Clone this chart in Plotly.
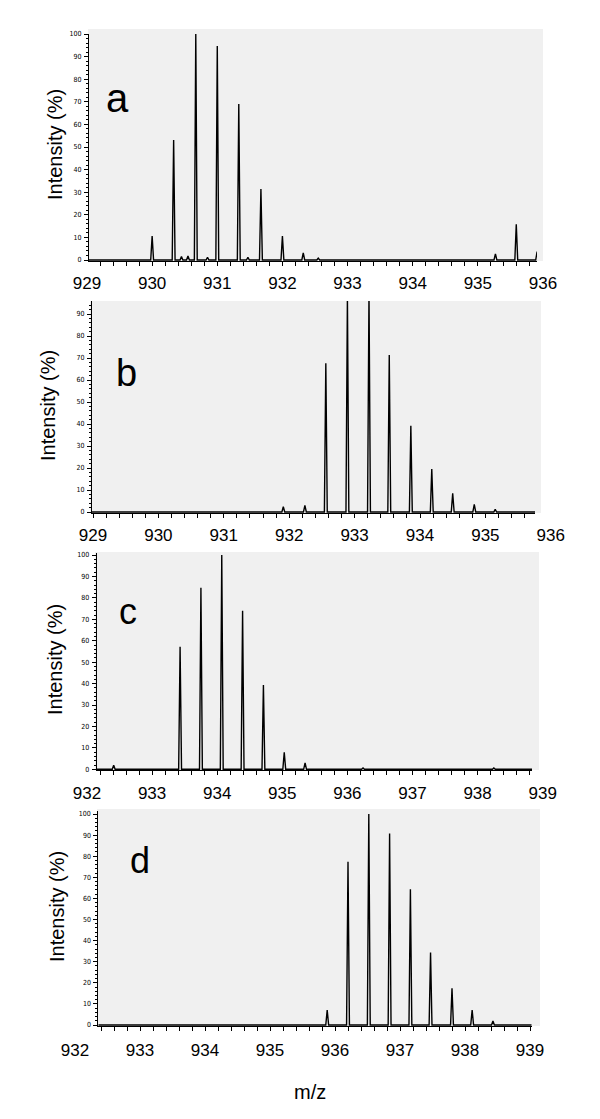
import plotly.graph_objects as go

W, H = 600, 1119

# ---------------- data ----------------
a_mz = [930.00, 930.33, 930.45, 930.55, 930.67, 930.85, 931.00, 931.33, 931.47, 931.67, 932.00, 932.32, 932.55, 935.27, 935.59, 935.91]
a_int = [10.6, 53.1, 1.5, 1.8, 100.0, 1.2, 94.7, 69.0, 1.2, 31.4, 10.6, 3.2, 0.8, 2.7, 15.8, 3.7]

b_mz = [931.91, 932.24, 932.56, 932.89, 933.22, 933.53, 933.86, 934.18, 934.50, 934.83, 935.15]
b_int = [2.4, 3.0, 67.6, 98.0, 100.0, 71.4, 39.2, 19.5, 8.5, 3.5, 1.2]

c_mz = [932.41, 933.43, 933.75, 934.07, 934.39, 934.71, 935.03, 935.35, 936.24, 938.25]
c_int = [1.9, 57.2, 84.7, 100.0, 74.0, 39.3, 7.9, 3.0, 0.6, 0.6]

d_mz = [935.88, 936.20, 936.52, 936.84, 937.16, 937.47, 937.80, 938.11, 938.43]
d_int = [7.1, 77.4, 100.0, 90.8, 64.3, 34.3, 17.4, 7.1, 1.9]

ticks_ab = [929, 930, 931, 932, 933, 934, 935, 936]
ticks_cd = [932, 933, 934, 935, 936, 937, 938, 939]

panel_letters = ["a", "b", "c", "d"]
y_title = "Intensity (%)"
x_title = "m/z"

# ---------------- layout geometry (pixels) ----------------
def fx(px):
    return px / W

def fy(py):
    return 1 - py / H

panels = [
    dict(mz=a_mz, inten=a_int, labels=ticks_ab, v0=929, p0=87, ppu=65.14,
         xl=89, xr=537, yb=261, yt=34, y0=260, ppi=2.26,
         gray=(88, 29, 543, 261), laby=271, letter=(117, 98, 40), title=(55, 144)),
    dict(mz=b_mz, inten=b_int, labels=ticks_ab, v0=929, p0=93, ppu=65.4,
         xl=92, xr=535, yb=513, yt=301, y0=512, ppi=2.2,
         gray=(90, 301, 541, 513), laby=523, letter=(126, 373, 38), title=(48, 406)),
    dict(mz=c_mz, inten=c_int, labels=ticks_cd, v0=932, p0=87, ppu=65.1,
         xl=96.7, xr=532, yb=770, yt=553, y0=769.3, ppi=2.143,
         gray=(95, 552, 539, 770), laby=781, letter=(128, 611, 36), title=(55, 659)),
    dict(mz=d_mz, inten=d_int, labels=ticks_cd, v0=932, p0=75, ppu=65.0,
         xl=98.3, xr=531.7, yb=1026, yt=811, y0=1025, ppi=2.11,
         gray=(97, 809, 540, 1026), laby=1038, letter=(140, 860, 36), title=(57, 907)),
]

FONT = "Liberation Sans, Arial, Helvetica, sans-serif"
fig = go.Figure()
layout = dict(template="none", width=W, height=H,
              margin=dict(l=0, r=0, t=0, b=0, autoexpand=False),
              paper_bgcolor="white", plot_bgcolor="rgba(0,0,0,0)",
              showlegend=False, font=dict(family=FONT, color="black"))
shapes = []
annotations = []
half_w = 0.022

for i, p in enumerate(panels):
    k = i + 1
    lk = i + 5
    xmin = p["v0"] + (p["xl"] - p["p0"]) / p["ppu"]
    xmax = p["v0"] + (p["xr"] - p["p0"]) / p["ppu"]
    ymin = (p["y0"] - p["yb"]) / p["ppi"]
    ymax = (p["y0"] - p["yt"]) / p["ppi"]

    xs, ys = [xmin], [0]
    for m, h in sorted(zip(p["mz"], p["inten"])):
        xs += [m - half_w, m, m + half_w]
        ys += [0, h, 0]
    xs.append(xmax)
    ys.append(0)
    fig.add_trace(go.Scatter(x=xs, y=ys, mode="lines",
                             line=dict(color="black", width=1.4),
                             xaxis=f"x{k}", yaxis=f"y{k}", hoverinfo="skip"))
    # invisible trace carrying the m/z label axis
    fig.add_trace(go.Scatter(x=p["labels"], y=[None] * len(p["labels"]), mode="markers",
                             xaxis=f"x{lk}", yaxis=f"y{k}", hoverinfo="skip"))

    layout[f"xaxis{k}"] = dict(domain=[fx(p["xl"]), fx(p["xr"])], range=[xmin, xmax],
                               anchor=f"y{k}", showline=True, linecolor="black", linewidth=1,
                               ticks="outside", ticklen=4, tickcolor="black", tickwidth=1,
                               tick0=p["v0"], dtick=0.2, automargin=False,
                               showticklabels=False, showgrid=False, zeroline=False)
    layout[f"yaxis{k}"] = dict(domain=[fy(p["yb"]), fy(p["yt"])], range=[ymin, ymax],
                               anchor=f"x{k}", showline=True, linecolor="black", linewidth=1,
                               ticks="outside", ticklen=4, tickcolor="black", tickwidth=1,
                               tick0=0, dtick=10, automargin=False,
                               tickfont=dict(size=7, family="DejaVu Sans Condensed, DejaVu Sans", color="black"),
                               minor=dict(ticks="outside", ticklen=2, tickcolor="black", dtick=2, showgrid=False),
                               showgrid=False, zeroline=False, ticklabelstandoff=1)
    lo, hi = p["labels"][0] - 0.1, p["labels"][-1] + 0.1
    layout[f"xaxis{lk}"] = dict(domain=[fx(p["p0"] + (lo - p["v0"]) * p["ppu"]),
                                        fx(p["p0"] + (hi - p["v0"]) * p["ppu"])],
                                range=[lo, hi], anchor="free", position=fy(p["laby"]),
                                side="bottom", showline=False, ticks="", showgrid=False,
                                zeroline=False, tickmode="array", tickvals=p["labels"],
                                ticktext=[str(v) for v in p["labels"]], automargin=False,
                                tickfont=dict(size=17, family=FONT, color="black"))
    gx0, gy0, gx1, gy1 = p["gray"]
    shapes.append(dict(type="rect", xref="paper", yref="paper",
                       x0=fx(gx0), x1=fx(gx1), y0=fy(gy1), y1=fy(gy0),
                       fillcolor="#f0f0f0", line=dict(width=0), layer="below"))
    lx, ly, ls = p["letter"]
    annotations.append(dict(text=panel_letters[i], x=fx(lx), y=fy(ly), xref="paper", yref="paper",
                            showarrow=False, xanchor="center", yanchor="middle",
                            font=dict(size=ls, family=FONT, color="black")))
    tx, ty = p["title"]
    annotations.append(dict(text=y_title, x=fx(tx), y=fy(ty), xref="paper", yref="paper",
                            showarrow=False, textangle=-90, xanchor="center", yanchor="middle",
                            font=dict(size=20, family=FONT, color="black")))

annotations.append(dict(text=x_title, x=fx(310), y=fy(1092), xref="paper", yref="paper",
                        showarrow=False, xanchor="center", yanchor="middle",
                        font=dict(size=20, family=FONT, color="black")))

layout["shapes"] = shapes
layout["annotations"] = annotations
fig.update_layout(**layout)
fig.write_html("out.html", config={"displayModeBar": False, "staticPlot": True},
               post_script="document.body.style.margin='0';document.body.style.overflow='hidden';")
